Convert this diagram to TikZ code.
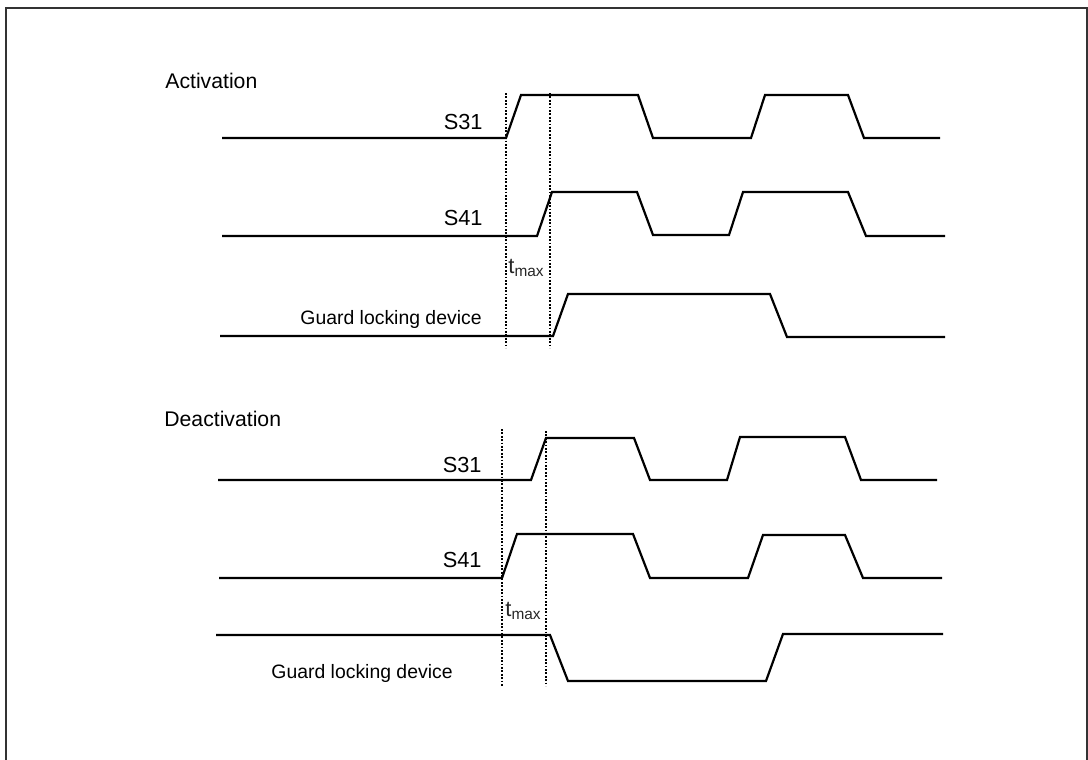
\documentclass[tikz,border=0pt]{standalone}
\usepackage{fontspec}
\setmainfont{Liberation Sans}

\begin{document}
\begin{tikzpicture}[x=0.5pt,y=-0.5pt,
  signal/.style={line width=1.1pt, line join=miter},
  marker/.style={line width=1.2pt, dash pattern=on 0.9pt off 0.8pt},
  sig/.style={anchor=base east, inner sep=0pt, font=\fontsize{10.9}{13}\selectfont},
  dev/.style={anchor=base east, inner sep=0pt, font=\fontsize{9.7}{11}\selectfont},
  head/.style={anchor=base west, inner sep=0pt, font=\fontsize{10.6}{12}\selectfont},
  tlab/.style={anchor=base west, inner sep=0pt, font=\fontsize{11}{13}\selectfont, text=black!85}]

\useasboundingbox (0,0) rectangle (1088,760);

% The frame round the diagram (open at the bottom)
\draw [line width=0.6pt, black!80] (6,760) -- (6,8) -- (1087,8) -- (1087,760);

% The time markers
\foreach \x/\ya/\yb in {506/93/348, 550/93/348, 502/429/686, 546/431/686} {
  \draw [marker] (\x,\ya) -- (\x,\yb);
}

% Activation
\node [head] (act) at (165,88) {Activation};
\draw [signal] (222,138) -- (506,138) -- (521,95) -- (638,95) -- (653,138) -- (751,138)
  -- (765,95) -- (848,95) -- (864,138) -- (940,138);
\draw [signal] (222,236) -- (537,236) -- (552,192) -- (637,192) -- (653,235) -- (729,235)
  -- (743,192) -- (848,192) -- (866,236) -- (945,236);
\draw [signal] (220,336) -- (553,336) -- (568,294) -- (770,294) -- (787,337) -- (945,337);
\node [sig] (actS31) at (483,129) {S31};
\node [sig] (actS41) at (483,225) {S41};
\node [dev] (actdev) at (482,324) {Guard locking device};
\node [tlab] (acttmax) at (508,273) {t\textsubscript{max}};

% Deactivation
\node [head] (deact) at (164,426) {Deactivation};
\draw [signal] (218,480) -- (531,480) -- (546,438) -- (634,438) -- (650,480) -- (727,480)
  -- (740,437) -- (845,437) -- (861,480) -- (937,480);
\draw [signal] (219,578) -- (502,578) -- (517,534) -- (633,534) -- (650,578) -- (748,578)
  -- (763,535) -- (845,535) -- (863,578) -- (942,578);
\draw [signal] (216,635) -- (550,635) -- (568,681) -- (766,681) -- (783,634) -- (943,634);
\node [sig] (deactS31) at (482,472) {S31};
\node [sig] (deactS41) at (482,567) {S41};
\node [dev] (deactdev) at (453,678) {Guard locking device};
\node [tlab] (deacttmax) at (505,616) {t\textsubscript{max}};

\end{tikzpicture}
\end{document}
